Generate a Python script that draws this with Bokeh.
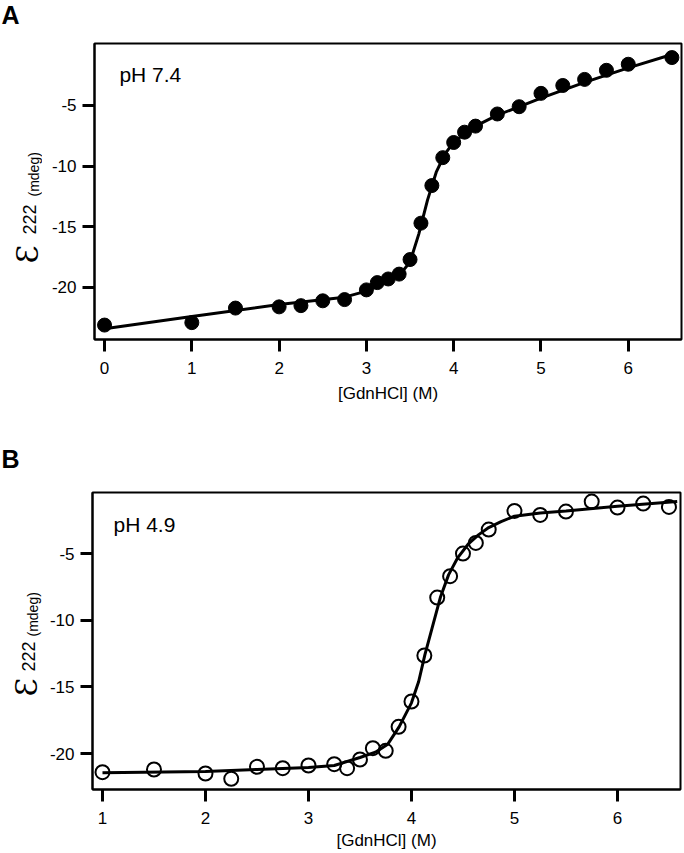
import math
from bokeh.plotting import figure
from bokeh.layouts import column, row
from bokeh.models import Label, FixedTicker, Range1d
from bokeh.embed import file_html
from bokeh.resources import INLINE

# ---- data: panel A (pH 7.4) ----
gdn_a = [0, 1, 1.5, 2, 2.25, 2.5, 2.75, 3, 3.125, 3.25, 3.375, 3.5, 3.625, 3.75,
         3.875, 4.0, 4.125, 4.25, 4.5, 4.75, 5.0, 5.25, 5.5, 5.75, 6.0, 6.5]
ell_a = [-23.1, -22.9, -21.7, -21.6, -21.5, -21.1, -21.0, -20.2, -19.6, -19.3, -18.9,
         -17.7, -14.7, -11.6, -9.3, -8.05, -7.2, -6.7, -5.7, -5.1, -4.0, -3.35, -2.85,
         -2.1, -1.6, -1.05]
fit_x_a = [0, 1, 2, 2.75, 3.0, 3.25, 3.4, 3.5, 3.6, 3.7, 3.8, 3.9, 4.0, 4.25, 4.5,
           5.0, 5.5, 6.0, 6.5]
fit_y_a = [-23.4, -22.4, -21.4, -20.8, -20.3, -19.5, -18.8, -17.9, -15.6, -12.8,
           -10.5, -9.0, -8.0, -6.7, -5.8, -4.4, -3.1, -1.9, -0.8]

# ---- data: panel B (pH 4.9) ----
gdn_b = [1, 1.5, 2, 2.25, 2.5, 2.75, 3, 3.25, 3.375, 3.5, 3.625, 3.75, 3.875, 4.0,
         4.125, 4.25, 4.375, 4.5, 4.625, 4.75, 5.0, 5.25, 5.5, 5.75, 6.0, 6.25, 6.5]
ell_b = [-21.4, -21.2, -21.5, -21.9, -21.0, -21.1, -20.9, -20.8, -21.1, -20.45, -19.6,
         -19.8, -18.0, -16.1, -12.65, -8.3, -6.7, -5.0, -4.2, -3.2, -1.8, -2.1, -1.85,
         -1.1, -1.55, -1.25, -1.5]
fit_x_b = [1.0, 2.0, 2.5, 3.0, 3.25, 3.5, 3.65, 3.77, 3.88, 4.0, 4.07, 4.13, 4.2, 4.28,
           4.36, 4.45, 4.55, 4.65, 4.75, 4.87, 5.0, 5.25, 5.5, 6.0, 6.58]
fit_y_b = [-21.45, -21.35, -21.2, -21.05, -20.9, -20.3, -19.9, -19.3, -18.0, -16.2,
           -14.6, -12.6, -10.6, -8.3, -6.6, -5.3, -4.3, -3.6, -3.05, -2.6, -2.2, -1.95,
           -1.8, -1.45, -1.1]

# ---- ticks / labels ----
x_ticks_a = [0, 1, 2, 3, 4, 5, 6]
x_ticks_b = [1, 2, 3, 4, 5, 6]
y_ticks = [-20, -15, -10, -5]
y_tick_labels = ["-20", "-15", "-10", "-5"]
x_label = "[GdnHCl] (M)"
y_sym, y_sub, y_unit = "\u0190", "222", "(mdeg)"

FONT = "Liberation Sans"
STRIP_W = 42


def no_frame_align(fig):
    try:
        fig.frame_align = False
    except Exception:
        pass


def strip(letter, height, pos):
    """Narrow figure (pixel coordinates) holding the panel letter and the
    rotated y-axis title, so nothing is clipped by the main frame."""
    s = figure(title=None, frame_width=STRIP_W, frame_height=height,
               x_range=Range1d(0, STRIP_W), y_range=Range1d(0, height),
               output_backend="svg", toolbar_location=None,
               x_axis_type=None, y_axis_type=None,
               min_border_left=0, min_border_right=0,
               min_border_top=0, min_border_bottom=0)
    no_frame_align(s)
    s.grid.visible = False
    s.outline_line_color = None
    s.background_fill_color = "white"
    s.border_fill_color = "white"

    def add(text, xy, font, size, angle=0.0, style="normal"):
        s.add_layout(Label(x=xy[0], y=height - xy[1], text=text, text_font=font,
                           text_font_size=size, text_font_style=style, angle=angle,
                           text_color="black", text_baseline="alphabetic",
                           text_align="left"))

    add(y_sym, pos["sym"], "DejaVu Serif", "30px", math.pi / 2)
    add(y_sub, pos["sub"], FONT, "18px", math.pi / 2)
    add(y_unit, pos["unit"], FONT, "14px", math.pi / 2)
    add(letter, pos["letter"], FONT, "25px", 0.0, "bold")
    return s


def panel(ph_text, ph_pos, xr, yr, xticks, fw, fh, borders, filled,
          xs, ys, fx, fy, label_standoff):
    bl, br, bt, bb = borders
    p = figure(frame_width=fw, frame_height=fh,
               x_range=Range1d(*xr), y_range=Range1d(*yr),
               output_backend="svg", toolbar_location=None,
               min_border_left=bl, min_border_right=br,
               min_border_top=bt, min_border_bottom=bb)
    no_frame_align(p)
    p.grid.visible = False
    p.background_fill_color = "white"
    p.border_fill_color = "white"
    p.outline_line_color = "black"
    p.outline_line_width = 2
    p.outline_line_alpha = 1
    for ax in (p.xaxis[0], p.yaxis[0]):
        ax.axis_line_width = 2
        ax.axis_line_color = "black"
        ax.major_tick_line_width = 3
        ax.major_tick_line_color = "black"
        ax.major_tick_out = 12
        ax.major_tick_in = 0
        ax.minor_tick_line_color = None
        ax.major_label_text_font = FONT
        ax.major_label_text_font_size = "17px"
        ax.major_label_text_color = "black"
    p.xaxis.ticker = FixedTicker(ticks=xticks)
    p.xaxis.major_label_overrides = {t: str(t) for t in xticks}
    p.xaxis.major_label_standoff = 10
    p.yaxis.ticker = FixedTicker(ticks=y_ticks)
    p.yaxis.major_label_overrides = dict(zip(y_ticks, y_tick_labels))
    p.yaxis.major_label_standoff = 6
    p.xaxis.axis_label = x_label
    p.xaxis.axis_label_text_font = FONT
    p.xaxis.axis_label_text_font_size = "17px"
    p.xaxis.axis_label_text_font_style = "normal"
    p.xaxis.axis_label_text_color = "black"
    p.xaxis.axis_label_standoff = label_standoff

    p.line(fx, fy, line_color="black", line_width=3)
    if filled:
        p.scatter(xs, ys, size=14, fill_color="black", line_color="black")
    else:
        p.scatter(xs, ys, size=14, fill_color=None, line_color="black", line_width=2)

    p.add_layout(Label(x=ph_pos[0], y=ph_pos[1], text=ph_text, text_font=FONT,
                       text_font_size="21px", text_color="black",
                       text_baseline="alphabetic"))
    return p


# ---- panel A ----
HA = 420
sA = strip("A", HA, dict(sym=(27, 263), sub=(29, 234), unit=(33, 196),
                         letter=(1, 14)))
pA = panel("pH 7.4", (0.17, -2.45), (-0.115, 6.61), (-24.29, 0.11), x_ticks_a,
           587, 296, (94 - STRIP_W, 3, 43, HA - 43 - 296), True,
           gdn_a, ell_a, fit_x_a, fit_y_a, 7)

# ---- panel B ----
HB = 432
offB = 420
sB = strip("B", HB, dict(sym=(26, 696 - offB), sub=(28, 671 - offB),
                         unit=(32, 636 - offB), letter=(1, 458 - offB)))
pB = panel("pH 4.9", (1.107, -2.85), (0.903, 6.612), (-22.70, -0.42), x_ticks_b,
           588, 297, (92 - STRIP_W, 4, 72, HB - 72 - 297), False,
           gdn_b, ell_b, fit_x_b, fit_y_b, 4)

layout = column(row(sA, pA, spacing=0), row(sB, pB, spacing=0), spacing=0)
open("out.html", "w").write(file_html(layout, INLINE))
